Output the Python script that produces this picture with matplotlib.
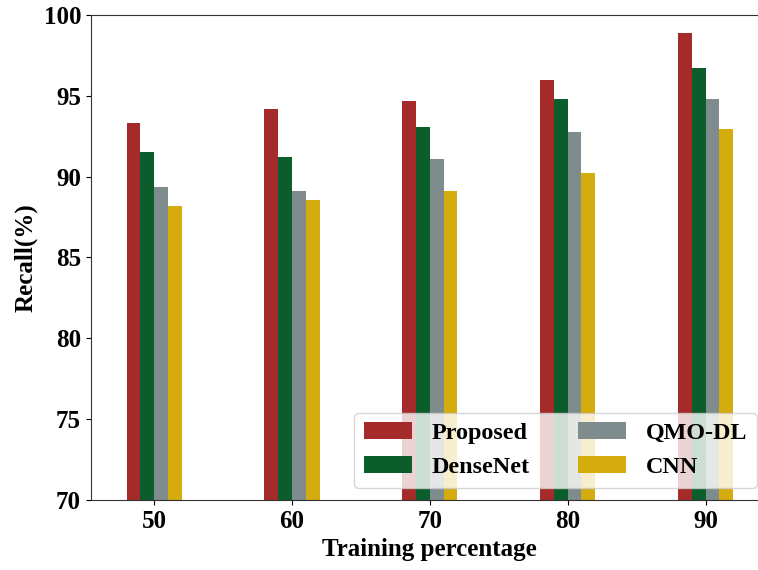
import numpy as np
import matplotlib
matplotlib.use("Agg")
import matplotlib.pyplot as plt

plt.rcParams['font.family'] = ['Liberation Serif', 'DejaVu Serif']
plt.rcParams['font.weight'] = 'bold'

training_pct = ['50', '60', '70', '80', '90']
methods = ['Proposed', 'DenseNet', 'QMO-DL', 'CNN']
proposed = [93.35, 94.2, 94.65, 96.0, 98.9]
densenet = [91.55, 91.2, 93.1, 94.8, 96.7]
qmo_dl = [89.35, 89.1, 91.1, 92.75, 94.8]
cnn = [88.2, 88.55, 89.1, 90.2, 92.95]
colors = ['#A52A2A', '#0B5E2B', '#7F8C8D', '#D4AC0D']

fig = plt.figure(figsize=(7.58, 5.70), dpi=100)
# the axes runs slightly past the right edge of the canvas
ax = fig.add_axes([0.1197, 0.1228, 0.8947, 0.8509])

x = np.arange(len(training_pct))
width = 0.1
series = [proposed, densenet, qmo_dl, cnn]
for i, (vals, name, col) in enumerate(zip(series, methods, colors)):
    ax.bar(x + (i - 1.5) * width, vals, width, color=col, label=name)

ax.set_ylim(70, 100)
ax.set_xlim(-0.46, 4.46)
ax.set_xticks(x)
ax.set_xticklabels(training_pct)
ax.set_yticks([70, 75, 80, 85, 90, 95, 100])
ax.tick_params(axis='both', labelsize=18)
for lbl in ax.get_xticklabels() + ax.get_yticklabels():
    lbl.set_fontweight('bold')

for s in ['left', 'top', 'bottom', 'right']:
    ax.spines[s].set_color('#333333')

ax.set_xlabel('Training percentage', fontsize=18, fontweight='bold', labelpad=4)
ax.set_ylabel('Recall(%)', fontsize=18, fontweight='bold', labelpad=4.5)

leg = ax.legend(loc='lower right', ncol=2, prop={'size': 17.4, 'weight': 'bold'})

fig.savefig('out.png', dpi=100)
